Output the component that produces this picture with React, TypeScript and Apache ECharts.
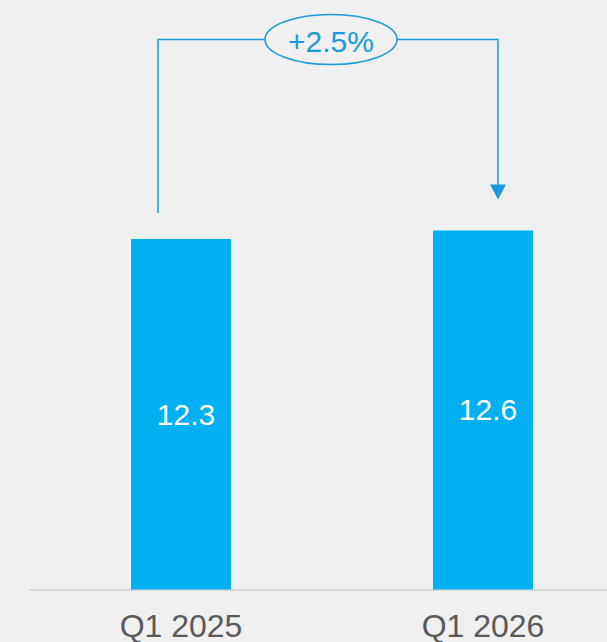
import React, { useEffect, useRef } from "react";
import * as echarts from "echarts";

const categories = ["Q1 2025", "Q1 2026"];
const values = [12.3, 12.6];
const changeLabel = "+2.5%";

const BG = "#f0f0f0";
const BAR = "#00b0f0";
const LINE = "#1a9ad9";
const FONT = "'Liberation Sans', Arial, sans-serif";

export default function App() {
  const ref = useRef<HTMLDivElement>(null);
  useEffect(() => {
    if (!ref.current) return;
    const chart = echarts.init(ref.current, null, { renderer: "svg" });
    chart.setOption({
      animation: false,
      backgroundColor: BG,
      grid: { left: 30, top: 19.5, bottom: 52.5, right: -27, outerBoundsMode: "none", containLabel: false },
      xAxis: {
        type: "category",
        data: categories,
        axisLine: { lineStyle: { color: "#d9d9d9", width: 2 } },
        axisTick: { show: false },
        axisLabel: { color: "#595959", fontSize: 32, fontFamily: FONT, margin: 20 },
      },
      yAxis: {
        type: "value",
        min: 0,
        max: 20,
        show: false,
        splitLine: { show: false },
      },
      series: [
        {
          type: "bar",
          data: values,
          barWidth: 100,
          itemStyle: { color: BAR },
          label: {
            show: true,
            position: "inside",
            offset: [5, 0],
            color: "#ffffff",
            fontSize: 30,
            fontFamily: FONT,
          },
        },
      ],
    });

    const p1 = chart.convertToPixel({ xAxisIndex: 0, yAxisIndex: 0 }, [0, values[0]]) as number[];
    const p2 = chart.convertToPixel({ xAxisIndex: 0, yAxisIndex: 0 }, [1, values[1]]) as number[];
    const topY = 39.5;
    const lx = p1[0] - 23;
    const ly = p1[1] - 26;
    const rx = p2[0] + 15;
    const tipY = p2[1] - 31;
    const ecx = (lx + rx) / 2 + 3;
    const erx = 66;
    const ery = 25;

    chart.setOption({
      graphic: [
        {
          type: "polyline",
          shape: { points: [[lx, ly], [lx, topY], [ecx - erx, topY]] },
          style: { stroke: LINE, lineWidth: 1.5, fill: null },
        },
        {
          type: "polyline",
          shape: { points: [[ecx + erx, topY], [rx, topY], [rx, tipY - 14]] },
          style: { stroke: LINE, lineWidth: 1.5, fill: null },
        },
        {
          type: "polygon",
          shape: { points: [[rx - 8, tipY - 15], [rx + 8, tipY - 15], [rx, tipY]] },
          style: { fill: LINE },
        },
        {
          type: "ellipse",
          shape: { cx: ecx, cy: topY, rx: erx, ry: ery },
          style: { fill: BG, stroke: LINE, lineWidth: 1.5 },
        },
        {
          type: "text",
          x: ecx,
          y: topY + 2,
          style: {
            text: changeLabel,
            fill: LINE,
            fontSize: 30,
            fontFamily: FONT,
            align: "center",
            verticalAlign: "middle",
          },
        },
      ],
    });

    return () => chart.dispose();
  }, []);
  return <div ref={ref} style={{ width: 607, height: 642, position: "absolute", left: 0, top: 0 }} />;
}
